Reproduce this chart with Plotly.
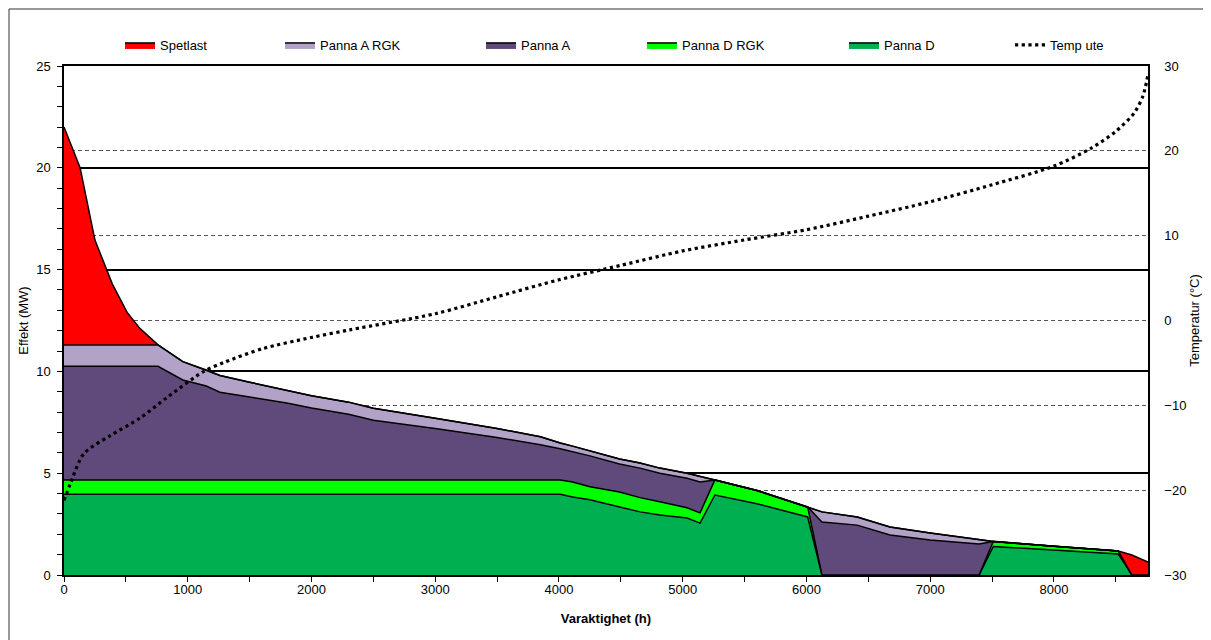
import plotly.graph_objects as go

# ---- data ----
hours = [0, 130, 250, 390, 510, 615, 760, 960, 1150, 1260, 1500, 1800, 2000, 2300, 2500,
         3000, 3500, 3850, 4010, 4110, 4250, 4490, 4655, 4815, 5035, 5140, 5260, 5600,
         6010, 6125, 6410, 6675, 7000, 7395, 7510, 7970, 8520, 8630, 8760]

panna_d = [3.97, 3.97, 3.97, 3.97, 3.97, 3.97, 3.97, 3.97, 3.97, 3.97, 3.97, 3.97, 3.97, 3.97, 3.97,
           3.97, 3.97, 3.97, 3.97, 3.83, 3.70, 3.34, 3.10, 2.95, 2.80, 2.55, 3.93, 3.50,
           2.85, 0, 0, 0, 0, 0, 1.40, 1.23, 1.03, 0, 0]
panna_d_rgk = [0.70, 0.70, 0.70, 0.70, 0.70, 0.70, 0.70, 0.70, 0.70, 0.70, 0.70, 0.70, 0.70, 0.70, 0.70,
               0.70, 0.70, 0.70, 0.70, 0.74, 0.63, 0.74, 0.70, 0.65, 0.50, 0.50, 0.74, 0.65,
               0.49, 0, 0, 0, 0, 0, 0.25, 0.19, 0.15, 0, 0]
panna_a = [5.58, 5.58, 5.58, 5.58, 5.58, 5.58, 5.58, 4.91, 4.61, 4.31, 4.08, 3.78, 3.53, 3.23, 2.93,
           2.53, 2.08, 1.73, 1.53, 1.48, 1.52, 1.37, 1.45, 1.40, 1.45, 1.52, 0, 0,
           0, 2.60, 2.45, 1.96, 1.72, 1.52, 0, 0, 0, 0, 0]
panna_a_rgk = [1.05, 1.05, 1.05, 1.05, 1.05, 1.05, 1.05, 0.90, 0.79, 0.82, 0.72, 0.62, 0.60, 0.59, 0.59,
               0.50, 0.45, 0.39, 0.28, 0.28, 0.25, 0.25, 0.25, 0.25, 0.25, 0.28, 0, 0,
               0, 0.50, 0.40, 0.40, 0.34, 0.25, 0, 0, 0, 0, 0]
spetlast = [10.70, 8.70, 5.15, 3.00, 1.60, 0.80, 0, 0, 0, 0, 0, 0, 0, 0, 0,
            0, 0, 0, 0, 0, 0, 0, 0, 0, 0, 0, 0, 0,
            0, 0, 0, 0, 0, 0, 0, 0, 0, 0.98, 0.64]

temp_hours = [0, 50, 160, 370, 615, 830, 1130, 1300, 1610, 2000, 2310, 3000, 3500, 4000, 4500,
              5000, 5500, 6000, 6500, 7000, 7500, 8000, 8300, 8500, 8650, 8720, 8760]
temp_ute = [-21.2, -19.3, -15.7, -13.6, -11.5, -9.1, -6.0, -4.9, -3.3, -2.0, -1.1, 0.8, 2.8, 4.8, 6.5,
            8.2, 9.5, 10.7, 12.3, 14.0, 16.0, 18.2, 20.3, 22.3, 24.5, 26.5, 29.0]

x_ticks = [0, 1000, 2000, 3000, 4000, 5000, 6000, 7000, 8000]
y_ticks = [0, 5, 10, 15, 20, 25]
y2_ticks = [-30, -20, -10, 0, 10, 20, 30]

# ---- styling ----
FONT = "Liberation Sans, Arial, sans-serif"
OFF = 8  # page body margin
W, H = 1203, 632
L, R, T, B = 56, 63, 58, 65
PW, PH = W - L - R, H - T - B


def px_x(page_x):
    return (page_x - OFF - L) / PW


def px_y(page_y):
    return (H - B - (page_y - OFF)) / PH


series = [
    ("Panna D", panna_d, "#00B050", "legend5"),
    ("Panna D RGK", panna_d_rgk, "#00FF00", "legend4"),
    ("Panna A", panna_a, "#604A7B", "legend3"),
    ("Panna A RGK", panna_a_rgk, "#B3A2C7", "legend2"),
    ("Spetlast", spetlast, "#FF0000", "legend"),
]

fig = go.Figure()
for name, vals, col, leg in series:
    fig.add_trace(go.Scatter(
        x=hours, y=vals, name=name, mode="lines", stackgroup="one",
        line=dict(color="black", width=1.5), fillcolor=col, legend=leg,
    ))

fig.add_trace(go.Scatter(
    x=temp_hours, y=temp_ute, name="Temp ute", mode="lines", yaxis="y2",
    line=dict(color="black", width=3.2, dash="3.2px,3.5px", shape="spline", smoothing=0.8),
    legend="legend6",
))

text_starts = [160, 320, 521, 682, 884, 1050]
leg_names = ["legend", "legend2", "legend3", "legend4", "legend5", "legend6"]
legend_cfg = {}
for ln, ts in zip(leg_names, text_starts):
    legend_cfg[ln] = dict(
        x=px_x(ts - 40), y=px_y(45), xanchor="left", yanchor="middle",
        orientation="h", bgcolor="rgba(0,0,0,0)", borderwidth=0,
        font=dict(family=FONT, size=13, color="black"),
    )

fig.update_layout(
    width=W, height=H,
    margin=dict(l=L, r=R, t=T, b=B, autoexpand=False),
    paper_bgcolor="white", plot_bgcolor="white",
    font=dict(family=FONT, size=13, color="black"),
    showlegend=True,
    xaxis=dict(
        range=[0, 8760], tickvals=x_ticks, ticks="outside", ticklen=5, tickcolor="black",
        minor=dict(dtick=500, tick0=0, ticks="outside", ticklen=5, tickcolor="black"),
        showgrid=False, zeroline=False, showline=True, linecolor="black", linewidth=1.5,
        mirror=True, automargin=False, ticklabelstandoff=-3,
        title=dict(text="<b>Varaktighet (h)</b>", font=dict(family=FONT, size=13), standoff=18),
        tickfont=dict(family=FONT, size=13),
    ),
    yaxis=dict(
        range=[0, 25], tickvals=y_ticks, ticks="outside", ticklen=5, tickcolor="black",
        minor=dict(dtick=1, tick0=0, ticks="outside", ticklen=5, tickcolor="black", showgrid=False),
        showgrid=True, gridcolor="black", gridwidth=1.5, zeroline=False,
        showline=True, linecolor="black", linewidth=1.5, automargin=False,
        ticklabelstandoff=4,
        title=dict(text="Effekt (MW)", font=dict(family=FONT, size=13), standoff=5),
        tickfont=dict(family=FONT, size=13),
    ),
    yaxis2=dict(
        range=[-30, 30], tickvals=y2_ticks, overlaying="y", side="right",
        ticks="", ticklabelstandoff=12, automargin=False,
        showgrid=True, gridcolor="#555555", gridwidth=1, griddash="4px,3px", zeroline=False,
        showline=True, linecolor="black", linewidth=1.5,
        title=dict(text="Temperatur (°C)", font=dict(family=FONT, size=13), standoff=4),
        tickfont=dict(family=FONT, size=13),
    ),
    shapes=[dict(
        type="rect", xref="paper", yref="paper",
        x0=px_x(9), x1=px_x(1260), y0=px_y(700), y1=px_y(9),
        line=dict(color="#333333", width=1), fillcolor="rgba(0,0,0,0)", layer="below",
    )],
    **legend_cfg,
)

fig.write_html("out.html")
